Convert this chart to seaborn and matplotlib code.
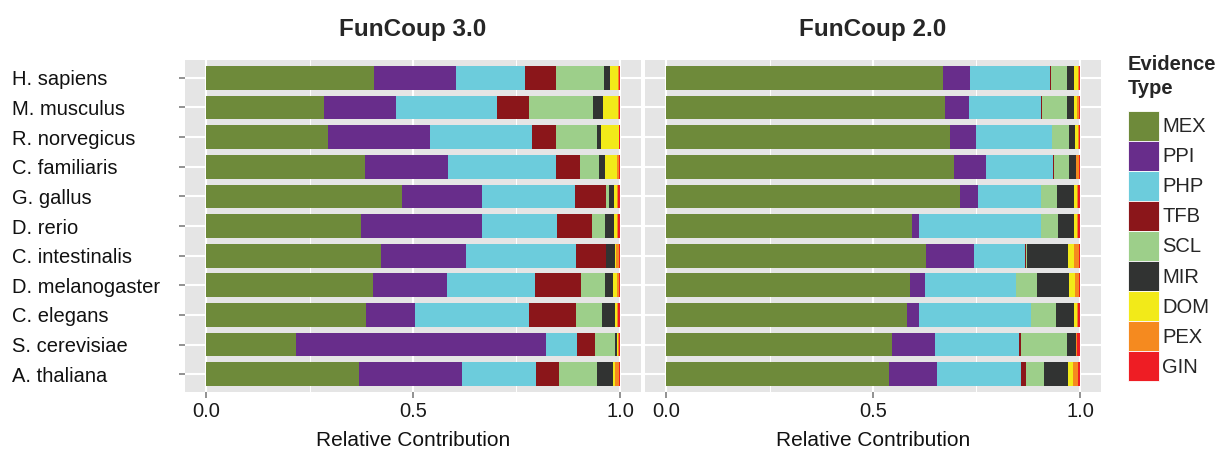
import matplotlib
matplotlib.use("Agg")
import matplotlib.pyplot as plt
from matplotlib.patches import Patch
from matplotlib.ticker import MultipleLocator, FormatStrFormatter
import seaborn as sns
import pandas as pd

species = ["H. sapiens", "M. musculus", "R. norvegicus", "C. familiaris", "G. gallus",
           "D. rerio", "C. intestinalis", "D. melanogaster", "C. elegans",
           "S. cerevisiae", "A. thaliana"]
evidence = ["MEX", "PPI", "PHP", "TFB", "SCL", "MIR", "DOM", "PEX", "GIN"]
colores = ["#6E8A3A", "#682D8B", "#6CCCDC", "#8B161A", "#9DCF8A",
           "#313332", "#F2EA19", "#F58A1F", "#EE1D24"]

# FunCoup 3.0 (leido do grafico)
fc3_mex = [0.406, 0.285, 0.295, 0.384, 0.473, 0.374, 0.423, 0.403, 0.386, 0.217, 0.370]
fc3_ppi = [0.198, 0.174, 0.246, 0.200, 0.193, 0.292, 0.205, 0.179, 0.118, 0.604, 0.249]
fc3_php = [0.167, 0.244, 0.246, 0.261, 0.225, 0.181, 0.266, 0.213, 0.275, 0.075, 0.179]
fc3_tfb = [0.075, 0.077, 0.058, 0.058, 0.075, 0.085, 0.072, 0.111, 0.114, 0.043, 0.056]
fc3_scl = [0.116, 0.155, 0.099, 0.046, 0.007, 0.031, 0.000, 0.058, 0.063, 0.048, 0.092]
fc3_mir = [0.015, 0.024, 0.010, 0.015, 0.012, 0.022, 0.022, 0.019, 0.031, 0.005, 0.039]
fc3_dom = [0.020, 0.036, 0.043, 0.029, 0.007, 0.007, 0.002, 0.010, 0.005, 0.002, 0.005]
fc3_pex = [0.002, 0.002, 0.000, 0.005, 0.003, 0.002, 0.007, 0.005, 0.002, 0.002, 0.010]
fc3_gin = [0.002, 0.003, 0.002, 0.002, 0.004, 0.005, 0.002, 0.002, 0.005, 0.003, 0.002]

# FunCoup 2.0
fc2_mex = [0.669, 0.674, 0.686, 0.696, 0.710, 0.594, 0.628, 0.589, 0.582, 0.546, 0.539]
fc2_ppi = [0.065, 0.056, 0.063, 0.077, 0.043, 0.017, 0.116, 0.036, 0.029, 0.104, 0.116]
fc2_php = [0.193, 0.176, 0.184, 0.162, 0.152, 0.295, 0.123, 0.220, 0.268, 0.203, 0.203]
fc2_tfb = [0.002, 0.002, 0.000, 0.002, 0.000, 0.000, 0.002, 0.000, 0.002, 0.005, 0.012]
fc2_scl = [0.039, 0.060, 0.041, 0.036, 0.039, 0.041, 0.002, 0.051, 0.060, 0.111, 0.043]
fc2_mir = [0.017, 0.017, 0.015, 0.017, 0.041, 0.039, 0.099, 0.077, 0.043, 0.022, 0.058]
fc2_dom = [0.010, 0.007, 0.007, 0.000, 0.007, 0.007, 0.015, 0.015, 0.007, 0.000, 0.012]
fc2_pex = [0.002, 0.005, 0.002, 0.007, 0.002, 0.002, 0.012, 0.010, 0.002, 0.002, 0.012]
fc2_gin = [0.002, 0.002, 0.003, 0.002, 0.005, 0.005, 0.002, 0.002, 0.005, 0.007, 0.005]

fc3 = pd.DataFrame(dict(zip(evidence, [fc3_mex, fc3_ppi, fc3_php, fc3_tfb, fc3_scl,
                                       fc3_mir, fc3_dom, fc3_pex, fc3_gin])), index=species)
fc2 = pd.DataFrame(dict(zip(evidence, [fc2_mex, fc2_ppi, fc2_php, fc2_tfb, fc2_scl,
                                       fc2_mir, fc2_dom, fc2_pex, fc2_gin])), index=species)

sns.set_theme(style="darkgrid")
plt.rcParams["font.family"] = ["Liberation Sans", "DejaVu Sans"]

W, H = 1223, 450
FS = 14.5
fig = plt.figure(figsize=(W / 100, H / 100), dpi=100)
fig.patch.set_facecolor("white")

paineis = [("FunCoup 3.0", fc3, 185.3), ("FunCoup 2.0", fc2, 645.3)]
top, bottom = 60, 392
axes = []
for titulo, df, x0 in paineis:
    ax = fig.add_axes([x0 / W, 1 - bottom / H, 455.4 / W, (bottom - top) / H])
    rel = df.div(df.sum(axis=1), axis=0)
    cum = rel.cumsum(axis=1)
    # desenha do acumulado maior para o menor (barras empilhadas)
    for ev, cor in reversed(list(zip(evidence, colores))):
        sns.barplot(x=cum[ev].values, y=species, orient="h", color=cor, saturation=1,
                    width=0.8, linewidth=0, ax=ax)
    ax.set_facecolor("#E5E5E5")
    ax.set_xlim(-0.05, 1.05)
    ax.set_ylim(10.6, -0.6)
    ax.xaxis.set_major_locator(MultipleLocator(0.5))
    ax.xaxis.set_minor_locator(MultipleLocator(0.25))
    ax.xaxis.set_major_formatter(FormatStrFormatter("%.1f"))
    ax.set_axisbelow(True)
    ax.grid(False)
    ax.xaxis.grid(True, which="major", color="white", lw=1.5)
    ax.xaxis.grid(True, which="minor", color="white", lw=0.7)
    ax.yaxis.grid(True, which="major", color="white", lw=1.5)
    for s in ax.spines.values():
        s.set_visible(False)
    ax.tick_params(axis="x", which="major", length=4, width=1.2, color="#7F7F7F",
                   labelsize=FS, labelcolor="#1A1A1A", pad=3.5, bottom=True)
    ax.tick_params(axis="x", which="minor", length=0)
    ax.set_xlabel("Relative Contribution", fontsize=15, color="#111111", labelpad=7)
    ax.set_ylabel("")
    ax.set_title(titulo, fontsize=17.5, fontweight="bold", pad=17)
    axes.append(ax)

ax1, ax2 = axes
ax1.tick_params(axis="y", length=4, width=1.2, color="#7F7F7F", labelsize=FS,
                labelcolor="#111111", pad=120.5, left=True)
for lbl in ax1.get_yticklabels():
    lbl.set_ha("left")
ax2.tick_params(axis="y", length=0, labelleft=False)

handles = [Patch(facecolor=c, edgecolor="white", linewidth=0.6, label=e)
           for e, c in zip(evidence, colores)]
leg = fig.legend(handles=handles, title="Evidence\nType", loc="upper left",
                 bbox_to_anchor=(1128 / W, 1 - 55 / H), frameon=False, fontsize=FS,
                 title_fontproperties={"weight": "bold", "size": FS},
                 handlelength=1.54, handleheight=1.92, labelspacing=0.0,
                 handletextpad=0.15, borderpad=0.0, borderaxespad=0.0)
leg._legend_box.align = "left"
leg.get_title().set_linespacing(1.35)
leg._legend_box.sep = 9

fig.savefig("out.png", dpi=100)
